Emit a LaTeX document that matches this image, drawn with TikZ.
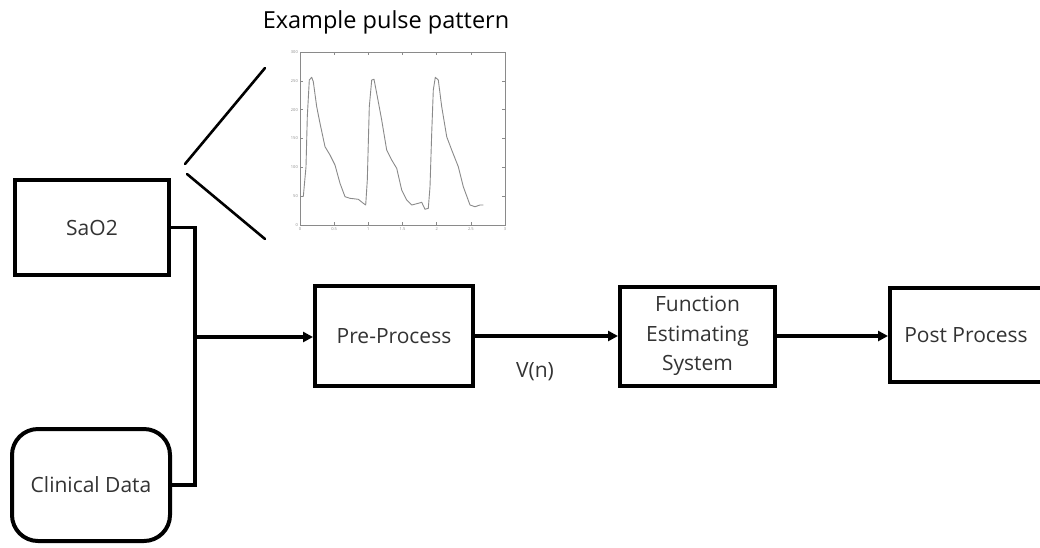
\documentclass[tikz,border=0pt]{standalone}
\usepackage{fontspec}
\setmainfont{Open Sans}
\usetikzlibrary{arrows.meta}
\definecolor{txt}{HTML}{333333}
\definecolor{plotgray}{HTML}{8A8A8A}
\begin{document}
\begin{tikzpicture}[x=1pt,y=-1pt,
  box/.style={draw=black, line width=4pt, fill=white, inner sep=0pt,
    text=txt, font=\fontsize{21}{29.5}\selectfont, align=center},
  wire/.style={line width=3.5pt},
  flow/.style={wire, -{Triangle[length=10pt,width=10pt]}},
  zoomline/.style={line width=2.6pt, line cap=round},
  axisline/.style={draw=plotgray, line width=0.6pt},
  ticklab/.style={text=plotgray, font=\fontsize{4}{5}\selectfont, inner sep=1pt},
  lbl/.style={text=txt, font=\fontsize{21}{29}\selectfont}]
\useasboundingbox (0,0) rectangle (1040,547);
\clip (0,0) rectangle (1040,547);

% blocks
\node[box, minimum width=154, minimum height=95] (sao2) at (92,227.5) {SaO2};
\node[box, minimum width=158, minimum height=112, rounded corners=26] (clin) at (91,485) {Clinical Data};
\node[box, minimum width=158, minimum height=100] (pre) at (394,336) {Pre-Process};
\node[box, minimum width=155, minimum height=99] (fes) at (697.5,336) {Function\\Estimating\\System};
\node[box, minimum width=152, minimum height=94] (post) at (966,335) {Post Process};

% input bus and signal flow
\coordinate (jn) at (195,337);
\draw[wire] (sao2.east) -| (jn) |- (clin.east);
\draw[flow] (jn) -- (jn -| pre.west);
\draw[flow] (pre.east) -- (fes.west);
\draw[flow] (fes.east) -- (fes.east -| post.west);
\node[lbl] (vn) at (535,372) {V(n)};

% example pulse plot
\node[text=black, font=\fontsize{23.5}{28}\selectfont] (title) at (386,22) {Example pulse pattern};
\node[axisline, inner sep=0pt, minimum width=205, minimum height=173] (frame) at (402.5,138.5) {};
\foreach \i/\lab in {0/0,1/50,2/100,3/150,4/200,5/250,6/300} {
  \draw[axisline] (300,{225-\i*28.83}) -- ++(3,0);
  \draw[axisline] (505,{225-\i*28.83}) -- ++(-3,0);
  \node[ticklab, anchor=east] at (299,{225-\i*28.83}) {\lab};
}
\foreach \i/\lab in {0/0,1/0.5,2/1,3/1.5,4/2,5/2.5,6/3} {
  \draw[axisline] ({300+\i*34.17},225) -- ++(0,-3);
  \draw[axisline] ({300+\i*34.17},52) -- ++(0,3);
  \node[ticklab, anchor=north] at ({300+\i*34.17},226) {\lab};
}
\draw[plotgray, line width=0.9pt, line join=round]
  (303.3,196.7) -- (306,166.7) -- (307.3,116.7) -- (309.3,80) -- (311.7,77.3)
  -- (313.3,81.7) -- (316.7,106.7) -- (320,123.3) -- (325,146.7) -- (330,155)
  -- (335,165) -- (340,183.3) -- (345,196.7) -- (350,198.3) -- (358.3,199.3)
  -- (363.3,203.3) -- (365.7,205) -- (367.3,180) -- (369.3,106.7) -- (371.7,80)
  -- (374,79.3) -- (376.7,93.3) -- (381.7,120) -- (386.7,150) -- (391.7,160)
  -- (396.7,168.3) -- (401.7,190) -- (406.7,200) -- (411.7,205) -- (418.3,203.3)
  -- (421.7,202.3) -- (425,209.3) -- (428.3,208.3) -- (430,186.7) -- (431.7,133.3)
  -- (433.3,90) -- (435.3,77.3) -- (438.3,80) -- (441.7,106.7) -- (446.7,136.7)
  -- (451.7,150) -- (458.3,166.7) -- (463.3,186.7) -- (470,205) -- (475,206.7)
  -- (480,205) -- (483.3,205);

% zoom-out lines from the SaO2 block to the plot
\coordinate (zA) at (185,164);
\coordinate (zB) at (265,68);
\coordinate (zC) at (187,174);
\coordinate (zD) at (265,239);
\draw[zoomline] (zA) -- (zB);
\draw[zoomline] (zC) -- (zD);
\end{tikzpicture}
\end{document}
